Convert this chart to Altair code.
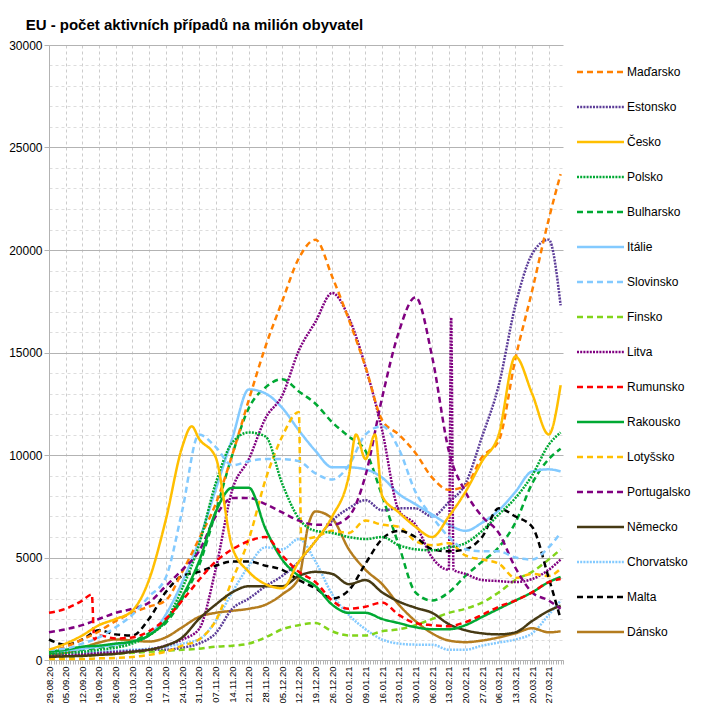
import altair as alt
import pandas as pd


"""
EU - počet aktivních případů na milión obyvatel
"""
#data: weekly readings (last one is 01.04.21)
dates = ["2020-08-29", "2020-09-05", "2020-09-12", "2020-09-19", "2020-09-26", "2020-10-03",
         "2020-10-10", "2020-10-17", "2020-10-24", "2020-10-31", "2020-11-07", "2020-11-14",
         "2020-11-21", "2020-11-28", "2020-12-05", "2020-12-12", "2020-12-19", "2020-12-26",
         "2021-01-02", "2021-01-09", "2021-01-16", "2021-01-23", "2021-01-30", "2021-02-06",
         "2021-02-13", "2021-02-20", "2021-02-27", "2021-03-06", "2021-03-13", "2021-03-20",
         "2021-03-27", "2021-04-01"]

madarsko = [400, 650, 1000, 1400, 1900, 2300, 2600, 2900, 4300, 5900, 7600, 10000, 12700, 15300, 17500, 19600,
            20500, 18700, 16600, 14300, 11700, 11000, 10100, 8900, 8300, 8500, 9900, 10700, 14700, 18000, 21500, 23700]
estonsko = [300, 300, 300, 350, 400, 450, 500, 500, 600, 800, 1300, 2500, 3000, 3600, 4100, 4800,
            5800, 6800, 7400, 7800, 7300, 7400, 7400, 7000, 7700, 8600, 10900, 13400, 17300, 19800, 20500, 17300]
cesko = [500, 800, 1200, 1700, 2000, 2400, 3900, 6800, 10400, 10800, 9900, 5500, 4300, 3700, 3500, 4800,
         5800, 7000, 9000, 9800, 8000, 7200, 6500, 6000, 7000, 8200, 9700, 11000, 14800, 13000, 11000, 13400]
polsko = [300, 350, 400, 500, 600, 800, 1200, 1900, 3500, 5600, 8600, 10600, 11100, 10900, 8600, 6900,
          6300, 6200, 6000, 5900, 6000, 5600, 5400, 5350, 5500, 5700, 6300, 7100, 7900, 9000, 10500, 11100]
bulharsko = [300, 400, 500, 600, 700, 900, 1300, 1800, 3000, 4600, 7200, 10000, 12300, 13300, 13700, 13100,
             12500, 11600, 10900, 10200, 8000, 5600, 3300, 2900, 3300, 4100, 4800, 5500, 6700, 8600, 9800, 10300]
italie = [400, 450, 550, 650, 750, 900, 1200, 2200, 3800, 5800, 8300, 10800, 13200, 13000, 12300, 11200,
          10200, 9400, 9400, 9300, 8900, 8100, 7600, 7100, 6600, 6300, 6700, 7300, 8200, 9200, 9300, 9200]
slovinsko = [500, 550, 800, 1100, 1600, 2200, 3100, 4000, 7300, 11000, 10400, 9500, 9700, 9800, 9800, 9700,
             9100, 8800, 9500, 11000, 11400, 10300, 8200, 7000, 6000, 5400, 5300, 5300, 5000, 4900, 5500, 6200]
finsko = [100, 150, 200, 250, 300, 350, 400, 450, 500, 550, 650, 700, 800, 1100, 1500, 1700,
          1800, 1400, 1200, 1200, 1400, 1500, 1700, 2000, 2300, 2500, 2800, 3300, 3900, 4300, 4900, 5400]
litva = [200, 200, 250, 300, 350, 400, 500, 700, 1000, 1500, 4400, 8300, 9800, 11800, 12900, 15100,
         16500, 17900, 16700, 14300, 11200, 7300, 6600, 5000, 4400, 4200, 3900, 3850, 3800, 3950, 4400, 4900]
rumunsko = [2300, 2500, 2900, 1200, 1050, 1100, 1400, 2000, 2900, 3900, 4800, 5400, 5800, 6000, 5100, 4300,
            3800, 2900, 2500, 2600, 2800, 2200, 1800, 1700, 1650, 1850, 2200, 2600, 2900, 3300, 3800, 3950]
rakousko = [400, 500, 650, 700, 800, 900, 1200, 1900, 3100, 4800, 7200, 8400, 8400, 6400, 4900, 4100,
            3600, 2700, 2300, 2300, 2000, 1800, 1600, 1500, 1500, 1700, 2100, 2500, 2900, 3300, 3800, 4050]
lotyssko = [50, 50, 50, 80, 100, 150, 250, 400, 700, 1000, 1900, 3900, 5900, 8800, 10900, 12100,
            6000, 6300, 6200, 6800, 6600, 6500, 5800, 5600, 5700, 5100, 4900, 4700, 4000, 4200, 4100, 4450]
portugalsko = [1350, 1500, 1700, 2000, 2300, 2500, 2800, 3600, 4400, 5300, 7000, 7900, 7900, 7600, 7200, 6800,
               6600, 6600, 7000, 9000, 12800, 16000, 17700, 14800, 10200, 8200, 7000, 6200, 4500, 3300, 2900, 2500]
nemecko = [150, 180, 200, 250, 300, 400, 500, 700, 1100, 2000, 2700, 3300, 3600, 3600, 3600, 4100,
           4300, 4200, 3700, 3900, 3300, 2850, 2550, 2300, 1750, 1450, 1300, 1250, 1350, 1900, 2400, 2650]
chorvatsko = [500, 450, 400, 400, 450, 500, 550, 650, 800, 1000, 1900, 3300, 4600, 5500, 5400, 5900,
              4800, 3200, 2200, 1500, 1000, 800, 750, 750, 500, 500, 700, 850, 1000, 1300, 2200, 2900]
malta = [1000, 750, 1000, 1450, 1250, 1200, 2000, 3300, 4100, 4300, 4600, 4800, 4800, 4600, 4400, 3900,
         3500, 3000, 3400, 4700, 5900, 6300, 6000, 5400, 5300, 5400, 6000, 7400, 7000, 6500, 4000, 2000]
dansko = [200, 350, 600, 850, 1000, 950, 900, 1100, 1600, 2100, 2300, 2400, 2500, 2700, 3200, 4000,
          7250, 6900, 5400, 4400, 3700, 2700, 1900, 1300, 950, 870, 950, 1100, 1300, 1550, 1350, 1400]

#single days between the weekly readings (jumps and peaks)
extra = [("Rumunsko", "2020-09-16", 3200), ("Rumunsko", "2020-09-17", 1000),
         ("Česko", "2020-10-28", 11400), ("Česko", "2021-01-05", 11000), ("Česko", "2021-01-13", 11000),
         ("Lotyšsko", "2020-12-13", 5900),
         ("Dánsko", "2020-12-16", 6600),
         ("Litva", "2021-02-14", 16700), ("Litva", "2021-02-15", 4400)]

names = ["Maďarsko", "Estonsko", "Česko", "Polsko", "Bulharsko", "Itálie", "Slovinsko", "Finsko", "Litva",
         "Rumunsko", "Rakousko", "Lotyšsko", "Portugalsko", "Německo", "Chorvatsko", "Malta", "Dánsko"]
series = [madarsko, estonsko, cesko, polsko, bulharsko, italie, slovinsko, finsko, litva,
          rumunsko, rakousko, lotyssko, portugalsko, nemecko, chorvatsko, malta, dansko]

#styl
colors = ["#ff8000", "#5c3c98", "#ffbf00", "#00a933", "#00a933", "#83caff", "#83caff", "#81d41a", "#800080",
          "#ff0000", "#00a933", "#ffbf00", "#800080", "#463a14", "#83caff", "#000000", "#b47c1e"]
solid, dashed, dotted = [1, 0], [6, 4], [2, 1.2]
dashes = [dashed, dotted, solid, dotted, dashed, solid, dashed, dashed, dotted,
          dashed, solid, dashed, dashed, solid, dotted, dashed, solid]

rows = []
for name, vals in zip(names, series):
    for d, v in zip(dates, vals):
        rows.append({"country": name, "date": d + "T00:00", "value": v})
for name, d, v in extra:
    rows.append({"country": name, "date": d + "T00:00", "value": v})
source = pd.DataFrame(rows).sort_values(["country", "date"])
legend_source = pd.DataFrame({"country": names})

color = alt.Color("country:N", scale=alt.Scale(domain=names, range=colors), legend=None)
dash = alt.StrokeDash("country:N", scale=alt.Scale(domain=names, range=dashes), legend=None)

week = "round((datum.value - datetime(2020, 7, 29)) / 864e5) % 7 === 0"
major = "datum.value % 5000 === 0"

x_axis = alt.Axis(
    tickCount={"interval": "day", "step": 1},
    labelExpr=f"{week} ? timeFormat(datum.value, '%d.%m.%y') : ''",
    labelAngle=270, labelFontSize=9.5, labelOverlap=False, labelFlush=False, labelPadding=2,
    labelColor="#000000", tickSize=4, tickColor="#b3b3b3", domainColor="#b3b3b3",
    gridDash=[3, 3], gridColor="#cccccc",
    gridOpacity={"condition": {"test": week, "value": 1}, "value": 0},
    title=None)

y_axis = alt.Axis(
    values=list(range(0, 30001, 1000)), format="d",
    labelExpr=f"{major} ? datum.label : ''",
    labelFontSize=12, labelOverlap=False, labelPadding=2, labelColor="#000000",
    tickSize={"condition": {"test": major, "value": 5}, "value": 0},
    tickColor="#b3b3b3", domainColor="#b3b3b3",
    gridDash={"condition": {"test": major, "value": []}, "value": [3, 3]},
    gridColor={"condition": {"test": major, "value": "#b3b3b3"}, "value": "#dddddd"},
    title=None)

#čáry
lines = alt.Chart(source).mark_line(strokeWidth=2.5, interpolate="monotone").encode(
    x=alt.X("date:T", axis=x_axis,
            scale=alt.Scale(domain=[alt.DateTime(year=2020, month=8, date=29),
                                    alt.DateTime(year=2021, month=4, date=2)], nice=False)),
    y=alt.Y("value:Q", axis=y_axis, scale=alt.Scale(domain=[0, 30000], nice=False)),
    color=color,
    strokeDash=dash,
).properties(width=514, height=615)

#legenda
legend_y = alt.Y("country:N", axis=None,
                 scale=alt.Scale(type="point", domain=names, range=[27, 587], padding=0))
legend_lines = alt.Chart(legend_source).mark_rule(strokeWidth=2.5).encode(
    y=legend_y, x=alt.value(0), x2=alt.value(47), color=color, strokeDash=dash)
legend_text = alt.Chart(legend_source).mark_text(align="left", baseline="middle", fontSize=12).encode(
    y=legend_y, x=alt.value(50), text="country:N")
legend = alt.layer(legend_lines, legend_text).properties(width=110, height=615)

chart = alt.hconcat(lines, legend, spacing=7).properties(
    title=alt.TitleParams("EU - počet aktivních případů na milión obyvatel", anchor="start",
                          fontSize=15, fontWeight="bold", dx=17, offset=6),
    padding={"left": 0, "top": 10, "right": 0, "bottom": 0},
).configure(font="Liberation Sans").configure_view(stroke=None)

chart.save("out.html", embed_options={"renderer": "svg", "actions": False})
